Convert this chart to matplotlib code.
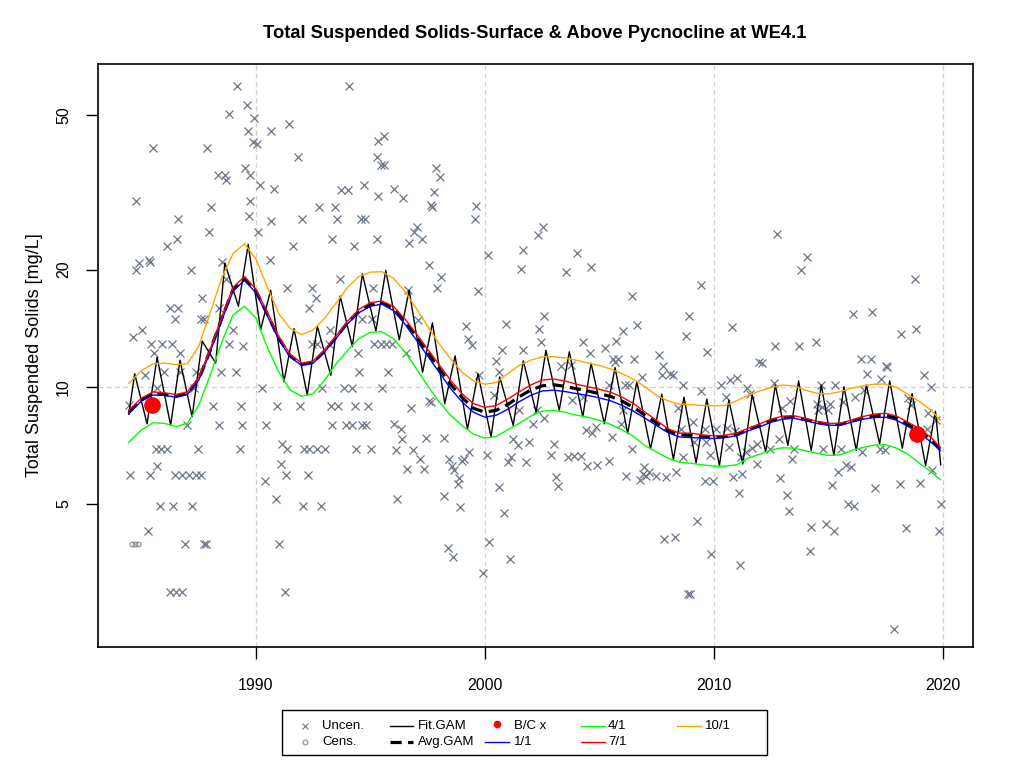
import matplotlib
matplotlib.use("Agg")
import matplotlib.pyplot as plt
from matplotlib.patches import Rectangle

plt.rcParams['font.family'] = ['Liberation Sans', 'DejaVu Sans']

TITLE = "Total Suspended Solids-Surface & Above Pycnocline at WE4.1"
YLABEL = "Total Suspended Solids [mg/L]"
XTICKS = [1990, 2000, 2010, 2020]
YTICKS = [5, 10, 20, 50]

# ---- uncensored observations (decimal year, mg/L)
obs_year = [
 1989.16,1994.07,1989.6,1988.82,1989.9,1991.45,1989.65,1990.67,1989.88,1990.03,1985.5,1987.84,1991.84,
 1995.34,1995.6,1995.28,1995.46,1995.6,1989.5,1989.72,1988.34,1988.63,1988.67,1990.17,1990.79,1993.73,
 1994.0,1994.72,1996.04,1995.35,1984.76,1988.03,1989.74,1992.76,1993.44,1989.68,1986.6,1990.66,1992.0,
 1993.56,1994.58,1994.76,1987.94,1990.09,1986.56,1986.12,1991.62,1993.31,1994.29,1995.27,1984.91,1985.32,
 1984.74,1985.39,1987.14,1988.5,1990.61,1988.67,1991.37,1992.46,1993.66,1995.12,1992.64,1987.65,1986.24,
 1986.6,1988.38,1986.46,1987.58,1987.72,1992.32,1994.65,1995.09,1984.63,1985.0,1989.0,1993.24,1985.43,
 1985.9,1986.34,1988.82,1989.43,1992.46,1992.68,1994.46,1995.16,1995.45,1995.67,1995.96,1986.7,1985.54,
 1993.2,
 1985.17,1985.98,1986.7,1987.36,1988.45,1989.11,1985.68,1987.29,1990.25,1988.13,1989.33,1990.93,1991.92,
 1993.29,1993.59,1994.32,1994.91,1984.44,1988.38,1989.37,1987.0,1990.42,1993.34,1993.92,1994.21,1994.65,
 1994.8,1996.04,1985.61,1985.83,1986.12,1987.46,1989.3,1991.15,1991.37,1992.1,1992.32,1992.68,1993.02,
 1994.36,1995.02,1985.68,1991.08,1984.49,1985.35,1986.46,1986.78,1987.07,1987.36,1987.58,1990.38,1991.3,
 1992.27,1985.8,1986.38,1987.21,1990.86,1992.07,1992.83,1996.14,1985.29,1986.92,1987.72,1987.8,1991.0,
 1986.24,1986.49,1986.78,1991.26,
 2000.63,1994.5,1995.75,1992.9,1993.85,1994.21,1995.5,1996.1,
 1997.86,1998.04,1996.43,1997.79,1997.64,1997.68,1999.61,1999.57,1997.03,1996.91,1997.25,1996.69,2000.12,
 1997.57,1998.08,1997.9,1999.69,1996.65,1997.1,1999.17,1999.27,1999.43,1996.55,2002.53,2002.31,2001.65,
 2004.02,2001.6,2003.54,2004.66,2006.43,2002.6,2000.93,2002.38,2006.64,2006.05,2008.9,2008.77,2000.75,
 2001.65,2002.45,2004.28,2004.61,2005.27,2005.71,2007.63,2005.59,2005.81,2006.5,2000.48,
 1999.76,2003.33,2003.77,2005.7,2006.86,2007.77,2007.75,2008.07,2008.22,2008.65,2006.14,2006.32,2005.41,
 2000.41,1996.77,1997.54,1997.64,2001.5,2002.28,2003.8,2004.28,2006.03,2008.46,2002.57,2002.12,1996.33,
 1996.4,1997.42,1998.22,2001.24,2001.43,2001.91,2004.42,2004.67,2004.86,2005.56,2005.95,2003.0,2006.41,
 1996.87,1997.16,1998.42,1999.1,1999.32,1999.0,2000.09,2001.14,2001.02,2001.8,2002.89,2003.62,2003.88,
 2004.2,2004.48,2004.92,2005.41,1996.58,1997.35,1998.56,1998.66,1998.88,1998.81,2003.1,2003.18,2000.61,
 2006.97,2007.16,2006.93,2006.8,2007.05,2007.49,2007.93,2008.37,2006.17,1998.22,1998.92,2000.85,1998.37,
 1998.59,2000.16,2001.09,1999.93,2007.85,2008.29,2008.87,
 2012.78,2014.09,2013.8,2009.45,2018.78,2009.71,2010.79,2016.09,2016.93,2018.17,2018.86,2012.7,2013.71,
 2014.48,2016.45,2016.86,2012.0,
 2012.12,2017.52,2017.59,2019.18,2016.72,2010.32,2010.72,2011.02,2009.45,2011.46,2011.57,2010.55,2012.63,
 2014.7,2015.31,2016.18,2016.57,2017.3,2019.51,2013.32,2014.51,2014.75,2015.07,2015.65,2014.56,2015.0,
 2013.0,2018.49,2018.64,2019.37,2019.73,2019.3,2008.58,2009.09,2009.6,2010.08,2010.59,2010.91,2009.16,
 2009.67,2009.82,2010.69,2011.42,2011.68,2011.88,2011.2,2011.9,2008.65,2012.84,2012.45,2013.53,2014.76,
 2015.57,2016.49,2017.25,2017.5,2013.4,2015.78,2016.0,2015.45,2019.55,2009.6,2009.96,2010.84,2011.24,
 2012.91,2011.1,2013.2,2015.17,2017.03,2018.13,2019.0,2013.27,2015.85,2016.14,2019.92,2009.27,2014.26,
 2014.92,2015.25,2018.39,2019.84,2014.19,2009.87,2011.17,2008.97,2017.87,
]
obs_value = [
 59.2,59.2,52.9,50.1,48.9,47.2,45.3,45.3,42.5,42.1,41.0,41.0,39.0,
 42.9,44.2,39.0,37.1,37.1,36.4,34.9,35.0,35.0,34.0,33.0,32.2,32.1,
 32.1,33.0,32.2,31.0,30.0,29.0,30.0,29.0,29.0,27.4,27.0,26.6,27.0,
 27.0,27.0,27.0,25.0,25.0,23.9,23.0,23.0,23.9,23.0,23.9,20.8,21.2,
 20.0,20.9,20.0,20.9,21.2,18.9,17.9,17.9,18.9,17.9,16.9,16.9,15.9,
 15.9,15.9,14.9,14.9,14.9,15.9,14.9,14.9,13.4,14.0,14.0,14.0,12.9,
 12.9,12.9,12.9,12.7,12.9,12.9,12.2,12.9,12.9,12.9,12.9,12.2,12.2,
 12.9,
 10.7,10.9,10.9,10.9,10.9,10.9,9.9,9.9,9.9,8.9,8.9,8.9,8.9,
 8.9,8.9,8.9,8.9,8.96,7.96,7.96,7.96,7.96,7.96,7.96,7.96,7.96,
 7.96,8.03,6.93,6.93,6.93,6.93,6.93,7.14,6.93,6.93,6.93,6.93,6.93,
 6.93,6.93,6.24,6.33,5.94,5.94,5.94,5.94,5.94,5.94,5.94,5.74,5.94,
 5.94,4.93,4.93,4.93,5.15,4.93,4.93,5.15,4.25,3.95,3.95,3.95,3.95,
 2.96,2.96,2.96,2.96,
 10.9,10.9,10.9,9.94,9.94,9.94,9.94,6.87,
 36.4,34.6,30.5,31.6,29.3,29.0,29.2,26.9,25.7,25.0,23.9,23.4,21.8,
 20.5,19.1,17.9,17.6,17.7,14.8,14.3,13.3,12.8,12.2,25.7,24.5,22.5,
 22.1,20.1,19.7,20.3,17.1,15.2,14.5,14.1,14.4,13.9,15.2,13.5,12.4,
 12.4,13.0,13.0,12.2,12.6,13.1,12.1,11.8,11.8,11.8,11.65,
 10.7,11.3,11.4,11.6,10.6,11.3,10.7,10.8,10.7,10.1,10.1,10.1,10.1,
 9.55,8.8,9.2,9.15,8.7,8.7,9.24,9.4,8.7,8.8,8.3,8.0,7.77,
 7.33,7.4,7.4,7.36,7.1,7.2,7.73,7.6,7.87,7.43,8.03,7.14,6.9,
 6.87,6.53,6.53,6.53,6.8,6.43,6.66,6.6,6.4,6.4,6.66,6.6,6.64,
 6.64,6.24,6.3,6.45,6.14,6.14,6.24,6.1,5.83,5.64,5.85,5.55,5.51,
 6.21,6.05,5.97,5.77,5.9,5.9,5.85,6.05,5.9,5.23,4.9,4.73,3.85,
 3.65,4.0,3.6,3.33,4.07,4.1,2.94,
 24.7,21.5,20.0,18.3,18.9,12.3,14.2,15.4,15.6,13.7,14.1,12.7,12.7,
 13.0,11.8,11.8,11.6,
 11.5,11.3,11.25,10.7,10.8,10.1,10.4,10.5,9.75,9.94,9.6,9.4,10.2,
 10.1,10.1,9.4,9.8,10.46,10.0,9.2,9.05,8.87,9.05,9.15,8.7,8.7,
 8.82,9.33,8.96,8.58,8.2,7.8,7.8,8.12,7.8,7.77,7.84,7.68,7.2,
 7.2,6.67,7.0,6.8,6.95,7.14,6.6,6.33,6.6,7.35,6.93,6.93,6.9,
 6.93,6.8,6.9,6.87,6.53,6.3,6.21,6.05,6.12,5.74,5.74,5.85,5.97,
 5.83,5.33,5.27,5.6,5.49,5.63,5.65,4.8,4.99,4.93,5.0,4.52,4.35,
 4.43,4.25,4.33,4.25,3.78,3.71,3.48,2.94,2.39,
]

# ---- censored observations
cens_year = [1984.6, 1984.71, 1984.86]
cens_value = [3.95, 3.95, 3.95]

# ---- Fit.GAM (seasonal fit) turning points
gam_year = [1984.44,1984.7,1985.24,1985.68,1986.27,1986.68,1987.21,1987.65,1988.24,1988.64,1989.23,1989.66,
 1990.2,1990.64,1991.22,1991.66,1992.24,1992.68,1993.27,1993.68,1994.21,1994.65,1995.24,1995.67,1996.26,
 1996.69,1997.28,1997.71,1998.25,1998.7,1999.24,1999.7,2000.27,2000.65,2001.24,2001.68,2002.24,2002.67,
 2003.25,2003.69,2004.28,2004.64,2005.22,2005.69,2006.24,2006.64,2007.24,2007.73,2008.24,2008.7,2009.23,
 2009.7,2010.25,2010.66,2011.27,2011.68,2012.27,2012.69,2013.24,2013.71,2014.26,2014.7,2015.25,2015.69,
 2016.23,2016.67,2017.25,2017.69,2018.24,2018.67,2019.26,2019.69,2019.92]
gam_value = [8.5,10.8,8.03,11.9,7.96,11.7,8.37,13.1,11.5,20.8,16.1,23.2,
 14.0,17.7,10.3,14.1,9.52,14.3,10.7,17.1,12.7,19.5,13.9,19.9,13.2,
 17.7,10.9,14.6,9.05,12.0,7.78,10.8,7.43,10.6,7.96,11.65,8.6,12.4,
 8.7,12.3,8.37,11.5,8.03,11.2,7.58,10.3,6.93,9.57,6.5,9.4,6.37,
 9.29,6.27,9.24,6.33,9.55,6.8,10.1,7.07,10.35,6.86,10.1,6.66,10.0,
 6.86,10.1,7.14,10.35,6.95,9.6,6.27,8.65,6.3]

# ---- smooth (flow-normalised) curves, half-year knots
curve_year = [1984.44] + [1985.0 + 0.5 * i for i in range(70)] + [2019.9]
avg_gam = [8.6,9.25,9.6,9.55,9.45,9.6,10.45,12.4,14.95,17.8,18.9,17.6,15.35,13.3,12.0,11.4,11.55,12.35,13.4,
 14.6,15.6,16.25,16.45,15.9,14.7,13.45,12.25,11.15,10.15,9.4,8.8,8.6,8.7,9.0,9.42,9.8,10.05,10.12,10.02,
 9.88,9.75,9.6,9.44,9.18,8.85,8.45,8.07,7.71,7.52,7.5,7.45,7.42,7.45,7.54,7.76,7.95,8.18,8.32,8.36,8.24,
 8.1,8.01,8.0,8.15,8.31,8.41,8.45,8.3,8.0,7.7,7.3,6.92]
flow_1_1 = [8.53,9.2,9.52,9.5,9.4,9.55,10.4,12.3,14.8,17.6,18.8,17.4,15.2,13.2,11.9,11.35,11.5,12.3,13.3,
 14.5,15.5,16.1,16.3,15.7,14.5,13.2,12.0,10.9,9.9,9.15,8.6,8.35,8.45,8.75,9.15,9.5,9.75,9.8,9.72,
 9.6,9.5,9.36,9.2,8.95,8.65,8.3,7.95,7.62,7.43,7.4,7.38,7.36,7.4,7.48,7.7,7.88,8.1,8.25,8.3,8.18,
 8.05,7.97,7.95,8.1,8.25,8.33,8.35,8.2,7.9,7.6,7.2,6.85]
flow_4_1 = [7.2,7.75,8.08,8.05,7.9,8.05,8.97,10.7,13.0,15.3,16.1,15.0,12.6,10.9,9.8,9.45,9.6,10.4,11.45,
 12.4,13.3,13.8,13.85,13.3,12.3,11.15,10.05,9.15,8.45,7.95,7.55,7.38,7.45,7.75,8.05,8.4,8.65,8.7,8.6,
 8.45,8.35,8.2,8.0,7.75,7.45,7.05,6.8,6.55,6.4,6.36,6.3,6.25,6.25,6.3,6.55,6.7,6.88,6.97,6.95,6.85,
 6.75,6.66,6.68,6.85,6.98,7.08,7.1,6.95,6.7,6.35,6.05,5.77]
flow_7_1 = [8.7,9.35,9.7,9.65,9.55,9.7,10.55,12.5,15.1,18.0,19.2,17.8,15.5,13.45,12.1,11.5,11.65,12.45,13.5,
 14.75,15.8,16.45,16.6,16.1,14.95,13.7,12.5,11.4,10.4,9.6,9.05,8.85,8.95,9.3,9.7,10.1,10.4,10.47,10.35,
 10.15,10.0,9.85,9.68,9.4,9.05,8.6,8.2,7.8,7.6,7.6,7.52,7.48,7.5,7.6,7.82,8.02,8.25,8.4,8.42,8.3,
 8.15,8.05,8.05,8.2,8.38,8.5,8.55,8.4,8.1,7.8,7.4,6.98]
flow_10_1 = [10.2,11.0,11.45,11.5,11.4,11.45,12.7,15.5,19.0,22.0,23.3,21.3,18.0,15.4,14.1,13.6,14.0,15.0,16.4,
 18.0,19.2,19.7,19.75,19.0,17.6,15.9,14.3,12.9,11.8,10.9,10.35,10.15,10.25,10.8,11.35,11.7,11.93,11.95,11.85,
 11.7,11.5,11.35,11.1,10.8,10.45,10.0,9.5,9.2,9.02,9.0,8.95,8.93,8.95,9.2,9.5,9.75,9.95,10.1,10.05,9.8,
 9.62,9.58,9.7,9.9,10.05,10.15,10.16,9.95,9.55,9.15,8.7,8.2]

# ---- back-calculated values
bc_year = [1985.45, 2018.9]
bc_value = [8.98, 7.56]

PT_COL = '#6B7686'
GRID_COL = '#D0D0D0'
GREEN = '#00FF00'

fig = plt.figure(figsize=(10.24, 7.68), dpi=100)
ax = fig.add_axes([98.3/1024, (768-647.3)/768, (973-98.3)/1024, (647.3-64)/768])
ax.set_yscale('log')
ax.set_xlim(1983.11, 2021.33)
ax.set_ylim(2.14, 67.5)

for gx in XTICKS:
    ax.axvline(gx, color=GRID_COL, lw=0.9, ls=(0, (4, 2.5)), zorder=0)
ax.axhline(10, color=GRID_COL, lw=0.9, ls=(0, (4, 2.5)), zorder=0)

ax.plot(obs_year, obs_value, ls='none', marker='x', ms=5.5, mew=0.9, color=PT_COL, zorder=2)
ax.plot(cens_year, cens_value, ls='none', marker='o', ms=3.5, mfc='none', mew=0.8, color='#8A8A8A', zorder=2)

ax.plot(gam_year, gam_value, color='black', lw=1.0, zorder=3)
ax.plot(curve_year, avg_gam, color='black', lw=2.3, dashes=(3.5, 2.0), zorder=4)
ax.plot(curve_year, flow_1_1, color='#0000FF', lw=1.0, zorder=5)
ax.plot(curve_year, flow_4_1, color=GREEN, lw=1.0, zorder=5)
ax.plot(curve_year, flow_7_1, color='#FF0000', lw=1.0, zorder=5)
ax.plot(curve_year, flow_10_1, color='#FFA500', lw=1.0, zorder=5)
ax.plot(bc_year, bc_value, ls='none', marker='o', ms=11, color='#FF0000', zorder=6)

ax.set_xticks(XTICKS)
ax.set_xticklabels([str(v) for v in XTICKS])
ax.set_yticks(YTICKS)
ax.set_yticklabels([str(v) for v in YTICKS])
ax.yaxis.set_minor_locator(matplotlib.ticker.NullLocator())
ax.tick_params(axis='both', which='major', length=8.6, width=1, labelsize=11.5, direction='out')
ax.tick_params(axis='x', pad=13.5)
ax.tick_params(axis='y', pad=11, labelrotation=90)
for lbl in ax.get_yticklabels():
    lbl.set_va('center')
for s in ax.spines.values():
    s.set_linewidth(1.2)

fig.text(35/1024, 1 - 355/768, YLABEL, rotation=90, ha='center', va='center', fontsize=13)
fig.text(535/1024, 1 - 33/768, TITLE, ha='center', va='center', fontsize=13.2, fontweight='bold')

# ---- legend (drawn in a pixel-space overlay)
lax = fig.add_axes([0, 0, 1, 1], facecolor='none')
lax.set_xlim(0, 1024)
lax.set_ylim(768, 0)
lax.axis('off')
lax.add_patch(Rectangle((282, 709.5), 485, 45.5, fill=False, lw=1.0, ec='black'))
r1, r2 = 725.7, 741.7
fs = 9.5
lax.plot([305], [r1], marker='x', ms=4.5, mew=0.8, color=PT_COL, ls='none')
lax.plot([305], [r2], marker='o', ms=3.5, mfc='none', mew=0.8, color='#8A8A8A', ls='none')
lax.text(322, r1, "Uncen.", va='center', fontsize=fs)
lax.text(322, r2, "Cens.", va='center', fontsize=fs)
lax.plot([390, 413], [r1, r1], color='black', lw=1.0)
lax.plot([390, 413], [r2, r2], color='black', lw=2.3, dashes=(3.5, 2.0))
lax.text(418, r1, "Fit.GAM", va='center', fontsize=fs)
lax.text(418, r2, "Avg.GAM", va='center', fontsize=fs)
lax.plot([497], [r1 - 1.5], marker='o', ms=4.5, color='#FF0000', ls='none')
lax.text(513.5, r1, "B/C x", va='center', fontsize=fs)
lax.plot([485, 509], [r2, r2], color='#0000FF', lw=1.0)
lax.text(513.5, r2, "1/1", va='center', fontsize=fs)
lax.plot([581, 605], [r1, r1], color=GREEN, lw=1.0)
lax.text(608, r1, "4/1", va='center', fontsize=fs)
lax.plot([581, 605], [r2, r2], color='#FF0000', lw=1.0)
lax.text(608, r2, "7/1", va='center', fontsize=fs)
lax.plot([677, 701], [r1, r1], color='#FFA500', lw=1.0)
lax.text(705, r1, "10/1", va='center', fontsize=fs)

fig.savefig("out.png", dpi=100)
